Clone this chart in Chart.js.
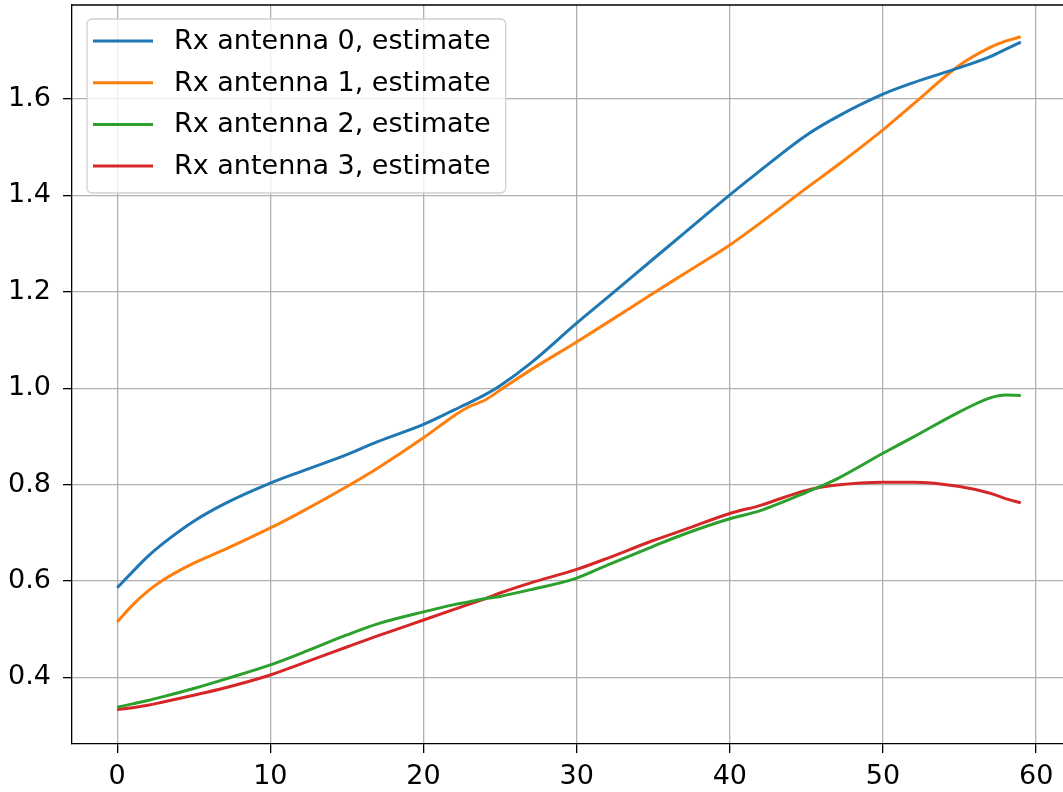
<!DOCTYPE html>
<html>
<head>
<meta charset="utf-8">
<script src="https://cdn.jsdelivr.net/npm/chart.js@4/dist/chart.umd.min.js"></script>
<style>
  html, body { margin: 0; padding: 0; background: #fff; overflow: hidden; }
  #wrap { width: 1063px; height: 792px; overflow: hidden; }
</style>
</head>
<body>
<div id="wrap"><canvas id="chart" width="1075" height="792"></canvas></div>
<script>
// sample positions (sample index)
const xs = [0, 1, 2, 3, 5, 7, 10, 12, 15, 17, 20, 22, 23, 24, 25, 27, 30, 32, 35, 37, 40, 42, 45, 47, 50, 52, 55, 57, 58, 59];

const ant0 = [0.586, 0.619, 0.651, 0.678, 0.724, 0.760, 0.803, 0.827, 0.862, 0.889, 0.925, 0.955, 0.970, 0.986, 1.005, 1.052, 1.135, 1.188, 1.268, 1.321, 1.401, 1.452, 1.525, 1.563, 1.610, 1.634, 1.665, 1.688, 1.703, 1.718];
const ant1 = [0.515, 0.550, 0.579, 0.602, 0.637, 0.665, 0.710, 0.743, 0.796, 0.834, 0.897, 0.943, 0.962, 0.975, 0.996, 1.038, 1.096, 1.136, 1.197, 1.237, 1.297, 1.343, 1.415, 1.462, 1.536, 1.590, 1.670, 1.707, 1.720, 1.729];
const ant2 = [0.338, 0.345, 0.352, 0.360, 0.377, 0.396, 0.426, 0.450, 0.488, 0.511, 0.536, 0.551, 0.557, 0.563, 0.568, 0.582, 0.606, 0.633, 0.672, 0.697, 0.729, 0.746, 0.784, 0.812, 0.865, 0.899, 0.951, 0.980, 0.986, 0.985];
const ant3 = [0.333, 0.337, 0.342, 0.349, 0.363, 0.378, 0.405, 0.428, 0.463, 0.486, 0.519, 0.541, 0.552, 0.563, 0.575, 0.596, 0.624, 0.647, 0.684, 0.706, 0.740, 0.757, 0.788, 0.799, 0.805, 0.805, 0.796, 0.782, 0.771, 0.762];

const labels = ["Rx antenna 0, estimate", "Rx antenna 1, estimate", "Rx antenna 2, estimate", "Rx antenna 3, estimate"];
const colors = ["#1f77b4", "#ff7f0e", "#2ca02c", "#d62728"];

const xTicks = [0, 10, 20, 30, 40, 50, 60];
const yTicks = [0.4, 0.6, 0.8, 1.0, 1.2, 1.4, 1.6];

const FONT = "DejaVu Sans";
const FSIZE = 27;
const pts = (ys) => xs.map((x, i) => ({ x, y: ys[i] }));

// top spine + matplotlib style legend inside the axes
const frameAndLegend = {
  id: "frameAndLegend",
  afterDatasetsDraw(chart) {
    const { ctx, chartArea: ca } = chart;
    ctx.save();
    ctx.strokeStyle = "#000";
    ctx.lineWidth = 1.3;
    ctx.beginPath();
    ctx.moveTo(ca.left, ca.top);
    ctx.lineTo(ca.right, ca.top);
    ctx.stroke();

    ctx.font = `${FSIZE}px "${FONT}"`;
    const rowH = 41.7;
    const bx = ca.left + 15, by = ca.top + 14;
    const textX = bx + 87;
    const maxW = Math.max(...chart.data.datasets.map(d => ctx.measureText(d.label).width));
    const bw = textX - bx + maxW + 15;
    const bh = 174;
    ctx.beginPath();
    ctx.roundRect(bx, by, bw, bh, 5);
    ctx.fillStyle = "rgba(255,255,255,0.8)";
    ctx.fill();
    ctx.strokeStyle = "#d0d0d0";
    ctx.lineWidth = 1.3;
    ctx.stroke();

    chart.data.datasets.forEach((d, i) => {
      const cy = by + 22 + i * rowH;
      ctx.strokeStyle = d.borderColor;
      ctx.lineWidth = 3;
      ctx.beginPath();
      ctx.moveTo(bx + 6, cy);
      ctx.lineTo(bx + 66, cy);
      ctx.stroke();
      ctx.fillStyle = "#000";
      ctx.textBaseline = "middle";
      ctx.textAlign = "left";
      ctx.fillText(d.label, textX, cy + 1);
    });
    ctx.restore();
  }
};

new Chart(document.getElementById("chart"), {
  type: "line",
  data: {
    datasets: [ant0, ant1, ant2, ant3].map((ys, i) => ({
      label: labels[i],
      data: pts(ys),
      borderColor: colors[i],
      backgroundColor: colors[i],
      borderWidth: 3,
      pointRadius: 0,
      fill: false,
      cubicInterpolationMode: "monotone"
    }))
  },
  options: {
    responsive: false,
    animation: false,
    layout: { padding: { top: 5, right: 9, left: 0, bottom: 0 } },
    plugins: { legend: { display: false }, tooltip: { enabled: false } },
    scales: {
      x: {
        type: "linear",
        min: -2.95,
        max: 61.95,
        afterFit: (s) => { s.height = 48; s.paddingLeft = 0; s.paddingRight = 0; },
        afterBuildTicks: (s) => { s.ticks = xTicks.map(v => ({ value: v })); },
        ticks: {
          font: { family: FONT, size: FSIZE },
          color: "#000",
          padding: 8,
          maxRotation: 0,
          callback: (v) => String(v)
        },
        grid: { color: "#b0b0b0", lineWidth: 1.3, tickLength: 9, tickColor: "#000", tickWidth: 1.3 },
        border: { color: "#000", width: 1.3 }
      },
      y: {
        type: "linear",
        min: 0.2618,
        max: 1.795,
        afterFit: (s) => { s.width = 72; s.paddingTop = 0; s.paddingBottom = 0; },
        afterBuildTicks: (s) => { s.ticks = yTicks.map(v => ({ value: v })); },
        ticks: {
          font: { family: FONT, size: FSIZE },
          color: "#000",
          padding: 12,
          callback: (v) => Number(v).toFixed(1)
        },
        grid: { color: "#b0b0b0", lineWidth: 1.3, tickLength: 9, tickColor: "#000", tickWidth: 1.3 },
        border: { color: "#000", width: 1.3 }
      }
    }
  },
  plugins: [frameAndLegend]
});
</script>
</body>
</html>
